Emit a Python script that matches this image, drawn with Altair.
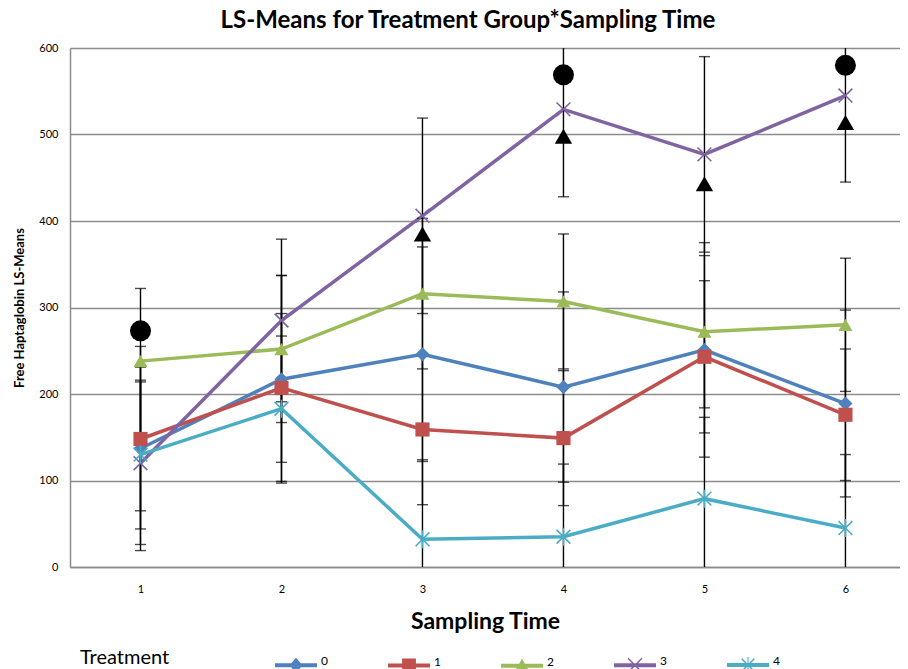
import altair as alt
import pandas as pd

# ---------------- data ----------------
times = [1, 2, 3, 4, 5, 6]
treatments = ["0", "1", "2", "3", "4"]
colors = ["#4F81BD", "#C0504D", "#9BBB59", "#8064A2", "#4BACC6"]

mean_t0 = [137, 217, 246, 208, 251, 189]
mean_t1 = [148, 207, 159, 149, 243, 176]
mean_t2 = [238, 252, 316, 307, 272, 280]
mean_t3 = [120, 285, 406, 529, 477, 545]
mean_t4 = [130, 183, 32, 35, 79, 45]

err_t0 = [118, 120, 124, 110, 124, 108]
err_t1 = [83, 86, 87, 78, 88, 76]
err_t2 = [84, 85, 87, 78, 88, 77]
err_t3 = [94, 94, 113, 101, 113, 100]
err_t4 = [86, 84, 92, 84, 94, 85]

circle_times = [1, 4, 6]
circle_values = [273, 569, 580]
triangle_times = [3, 4, 5, 6]
triangle_values = [385, 498, 443, 514]

y_ticks = [0, 100, 200, 300, 400, 500, 600]

# ---------------- tables ----------------
means = [mean_t0, mean_t1, mean_t2, mean_t3, mean_t4]
errs = [err_t0, err_t1, err_t2, err_t3, err_t4]
rows = []
for tr, m, e in zip(treatments, means, errs):
    for t, mv, ev in zip(times, m, e):
        rows.append({"Time": t, "Treatment": tr, "Mean": mv,
                     "Low": mv - ev, "High": mv + ev, "Hidden": -200})
df = pd.DataFrame(rows)
circ_df = pd.DataFrame({"Time": circle_times, "Mean": circle_values})
tri_df = pd.DataFrame({"Time": triangle_times, "Mean": triangle_values})

FONT = "Lato"
GRID = "#8C8C8C"

X_PATH = "M-1,-1L1,1M-1,1L1,-1"
STAR_PATH = "M-1,-1L1,1M-1,1L1,-1M0,-1.3L0,1.3"
marker_shapes = ["diamond", "square", "triangle-up", X_PATH, STAR_PATH]

LINE = "M-1,-0.095L1,-0.095L1,0.095L-1,0.095Z"
leg_shapes = [
    LINE + "M0,-0.36L0.31,0L0,0.36L-0.31,0Z",
    LINE + "M-0.33,-0.33L0.33,-0.33L0.33,0.33L-0.33,0.33Z",
    LINE + "M0,-0.34L0.37,0.3L-0.37,0.3Z",
    LINE + "M-0.305,-0.355L0.355,0.305L0.305,0.355L-0.355,-0.305Z"
           "M-0.305,0.355L-0.355,0.305L0.305,-0.355L0.355,-0.305Z",
    LINE + "M-0.275,-0.325L0.325,0.275L0.275,0.325L-0.325,-0.275Z"
           "M-0.275,0.325L-0.325,0.275L0.275,-0.325L0.325,-0.275Z"
           "M-0.025,-0.38L0.025,-0.38L0.025,0.38L-0.025,0.38Z",
]

x_axis = alt.Axis(values=times, grid=False, ticks=False, tickSize=0, labelFontSize=11,
                  labelFont=FONT, labelColor="#000", labelPadding=16, domainColor=GRID,
                  domainWidth=1.5, title="Sampling Time", titleFont=FONT, titleFontSize=23,
                  titleFontWeight="bold", titleColor="#000", titlePadding=16)
y_axis = alt.Axis(values=y_ticks, grid=True, gridColor=GRID, gridWidth=1.3, ticks=False,
                  tickSize=0, labelFontSize=11, labelFont=FONT, labelColor="#000",
                  labelPadding=12, domainColor=GRID, domainWidth=1.5,
                  title="Free Haptaglobin LS-Means", titleFont=FONT, titleFontSize=13,
                  titleFontWeight="bold", titleColor="#000", titlePadding=12)
x_scale = alt.Scale(domain=[0.5, 6.387], nice=False, zero=False)
y_scale = alt.Scale(domain=[0, 600], nice=False)


def X():
    return alt.X("Time:Q", scale=x_scale, axis=x_axis)


def Y(field):
    return alt.Y(field + ":Q", scale=y_scale, axis=y_axis)


def color(legend=None):
    return alt.Color("Treatment:N", scale=alt.Scale(domain=treatments, range=colors),
                     legend=legend)


base = alt.Chart(df)

lines = base.mark_line(strokeWidth=3.5).encode(x=X(), y=Y("Mean"), color=color(),
                                                detail="Treatment:N")

err_rule = base.mark_rule(color="black", strokeWidth=1.4, clip=True).encode(
    x=X(), y=Y("Low"), y2="High:Q")
cap_low = base.mark_tick(color="black", thickness=1.4, size=11, orient="horizontal",
                         clip=True).encode(x=X(), y=Y("Low"))
cap_high = base.mark_tick(color="black", thickness=1.4, size=11, orient="horizontal",
                          clip=True).encode(x=X(), y=Y("High"))

shape_marker = alt.Shape("Treatment:N",
                         scale=alt.Scale(domain=treatments, range=marker_shapes),
                         legend=None)
pts_filled = base.transform_filter(
    alt.FieldOneOfPredicate(field="Treatment", oneOf=["0", "1", "2"])
).mark_point(filled=True, size=200, opacity=1).encode(
    x=X(), y=Y("Mean"), color=color(), shape=shape_marker)
pts_open = base.transform_filter(
    alt.FieldOneOfPredicate(field="Treatment", oneOf=["3", "4"])
).mark_point(filled=False, size=190, strokeWidth=1.6, opacity=1).encode(
    x=X(), y=Y("Mean"), color=color(), shape=shape_marker)

circ = alt.Chart(circ_df).mark_point(shape="circle", filled=True, size=441,
                                     color="black", opacity=1).encode(x=X(), y=Y("Mean"))
tri = alt.Chart(tri_df).mark_point(shape="triangle-up", filled=True, size=300,
                                   color="black", opacity=1).encode(x=X(), y=Y("Mean"))

leg = alt.Legend(title="Treatment", orient="none", legendX=10, legendY=596,
                 direction="horizontal", columns=5, titleOrient="left",
                 titleFont=FONT, titleFontSize=20, titleFontWeight="normal",
                 titleColor="#000", titlePadding=105, titleBaseline="middle",
                 symbolSize=1764, symbolStrokeWidth=0, labelFont=FONT,
                 labelFontSize=12, labelColor="#000", labelOffset=4,
                 labelBaseline="alphabetic", columnPadding=60, padding=0)
legend_layer = base.mark_point(filled=True, clip=True, opacity=1).encode(
    x=X(), y=Y("Hidden"),
    color=color(leg),
    shape=alt.Shape("Treatment:N", scale=alt.Scale(domain=treatments, range=leg_shapes),
                    legend=leg))

chart = alt.layer(
    lines, err_rule, cap_low, cap_high, pts_filled, pts_open, circ, tri, legend_layer
).resolve_scale(
    color="independent", shape="independent"
).properties(
    width=830, height=519,
    title=alt.TitleParams("LS-Means for Treatment Group*Sampling Time", font=FONT,
                          fontSize=24, fontWeight="bold", color="#000",
                          anchor="middle", dx=-17, offset=9),
    autosize=alt.AutoSizeParams(type="none"),
    padding={"left": 62, "top": 40, "right": 0, "bottom": 102},
).configure_view(strokeWidth=0)

chart.save("out.html", embed_options={"renderer": "svg", "actions": False})
